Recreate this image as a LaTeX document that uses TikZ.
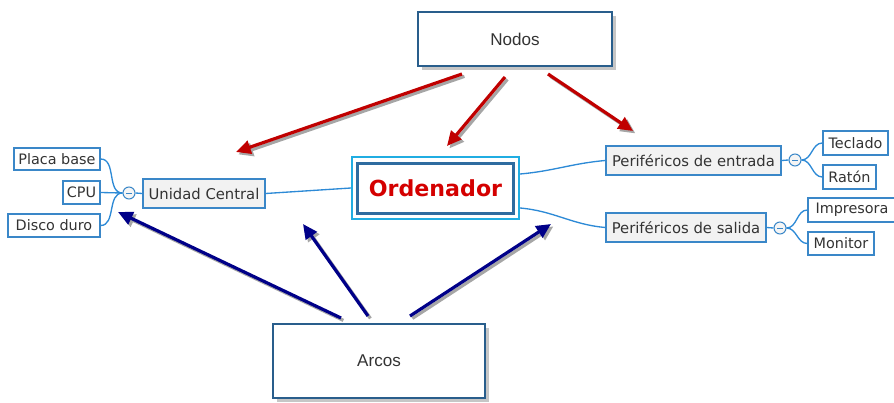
\documentclass[tikz,border=0pt]{standalone}
\usepackage{fontspec}
\newfontfamily\verd{DejaVu Sans}
\newfontfamily\arialf{Liberation Sans}
\usetikzlibrary{arrows.meta,shadows}
\definecolor{bordblue}{HTML}{3A87C8}
\definecolor{lineblue}{HTML}{2D8AD6}
\definecolor{ordred}{HTML}{D40000}
\definecolor{arrred}{HTML}{C00000}
\definecolor{arrnavy}{HTML}{000088}
\definecolor{txtgray}{HTML}{333333}
\tikzset{
  leafbox/.style={draw=bordblue, line width=1pt, fill=white, inner sep=0pt, font=\verd\fontsize{10.8}{12}\selectfont, text=txtgray},
  topicbox/.style={draw=bordblue, line width=1pt, fill=gray!10, inner sep=0pt, font=\verd\fontsize{11.1}{12}\selectfont, text=txtgray},
  bigbox/.style={draw=bordblue!70!black, line width=0.8pt, fill=white, inner sep=0pt, font=\arialf\fontsize{12.8}{14}\selectfont, text=txtgray,
     drop shadow={shadow xshift=3pt, shadow yshift=-3pt, opacity=0.45}},
  collapse/.style={circle, draw=bordblue, line width=0.8pt, fill=gray!8, minimum size=9pt, inner sep=0pt,
     path picture={\draw[bordblue, line width=0.7pt] ([xshift=-2.2pt]path picture bounding box.center) -- ([xshift=2.2pt]path picture bounding box.center);}},
  conn/.style={draw=lineblue, line width=1pt},
  redarrow/.style={draw=arrred, line width=2.4pt, -{Triangle[length=11pt,width=10pt]},
     preaction={draw=black!35, line width=2.4pt, transform canvas={shift={(1.8pt,-1.8pt)}}}},
  bluearrow/.style={draw=arrnavy, line width=2.4pt, -{Triangle[length=11pt,width=10pt]},
     preaction={draw=black!35, line width=2.4pt, transform canvas={shift={(1.8pt,-1.8pt)}}}},
}
\begin{document}
\begin{tikzpicture}[x=0.75pt, y=-0.75pt]
\useasboundingbox (0,0) rectangle (894,403);
% big boxes
\node[bigbox, minimum width=145.5pt, minimum height=40.5pt] (nodos) at (515,39) {Nodos};
\node[bigbox, minimum width=159pt, minimum height=55.5pt] (arcos) at (379,361) {Arcos};
% central node
\node[draw=lineblue!70!cyan, line width=1.6pt, minimum width=125.25pt, minimum height=46.5pt, inner sep=0pt] (ordout) at (435.5,188) {};
\node[draw=bordblue!80!black, line width=2.4pt, fill=white, minimum width=117pt, minimum height=37.5pt, inner sep=0pt,
  font=\verd\bfseries\fontsize{16.6}{18}\selectfont, text=ordred] (ord) at (435.5,188.5) {Ordenador};
% left branch
\node[topicbox, minimum width=91.5pt, minimum height=21.75pt] (uc) at (204,193.5) {Unidad Central};
\node[collapse] (c1) at (129,193) {};
\node[leafbox, minimum width=64.5pt, minimum height=16.5pt] (pb) at (57,159) {Placa base};
\node[leafbox, minimum width=27.75pt, minimum height=17.25pt] (cpu) at (81.5,192.5) {CPU};
\node[leafbox, minimum width=69pt, minimum height=17.25pt] (dd) at (54,225.5) {Disco duro};
% right branches
\node[topicbox, minimum width=131.25pt, minimum height=21.75pt] (pe) at (693.5,160.5) {Periféricos de entrada};
\node[collapse] (c2) at (795,160) {};
\node[leafbox, minimum width=48.75pt, minimum height=18pt] (tec) at (855.5,143) {Teclado};
\node[leafbox, minimum width=39.75pt, minimum height=18pt] (rat) at (849.5,177) {Ratón};
\node[topicbox, minimum width=120pt, minimum height=21.75pt] (ps) at (686,227.5) {Periféricos de salida};
\node[collapse] (c3) at (780,228) {};
\node[leafbox, minimum width=66pt, minimum height=18pt] (imp) at (852,210) {Impresora};
\node[leafbox, minimum width=49.5pt, minimum height=17.25pt] (mon) at (841,243.5) {Monitor};
% connectors
\draw[conn] (pb.east) to[out=0,in=180] (c1.west);
\draw[conn] (cpu.east) -- (c1.west);
\draw[conn] (dd.east) to[out=0,in=180] (c1.west);
\draw[conn] (c1.east) -- (uc.west);
\draw[conn] (uc.east) -- (ordout.west);
\draw[conn] ([yshift=10.5pt]ordout.east) to[out=5,in=185] (pe.west);
\draw[conn] ([yshift=-15pt]ordout.east) to[out=-5,in=175] (ps.west);
\draw[conn] (pe.east) -- (c2.west);
\draw[conn] (c2.east) to[out=0,in=180] (tec.west);
\draw[conn] (c2.east) to[out=0,in=180] (rat.west);
\draw[conn] (ps.east) -- (c3.west);
\draw[conn] (c3.east) to[out=0,in=180] (imp.west);
\draw[conn] (c3.east) to[out=0,in=180] (mon.west);
% arrows
\coordinate (n1) at (462,74); \coordinate (t1) at (236,152);
\coordinate (n2) at (505,77); \coordinate (t2) at (447,146);
\coordinate (n3) at (548,74); \coordinate (t3) at (633,131);
\coordinate (a1) at (341,318); \coordinate (u1) at (118,212);
\coordinate (a2) at (368,316); \coordinate (u2) at (303,224);
\coordinate (a3) at (410,316); \coordinate (u3) at (551,224);
\draw[redarrow] (n1) -- (t1);
\draw[redarrow] (n2) -- (t2);
\draw[redarrow] (n3) -- (t3);
\draw[bluearrow] (a1) -- (u1);
\draw[bluearrow] (a2) -- (u2);
\draw[bluearrow] (a3) -- (u3);
\end{tikzpicture}
\end{document}
